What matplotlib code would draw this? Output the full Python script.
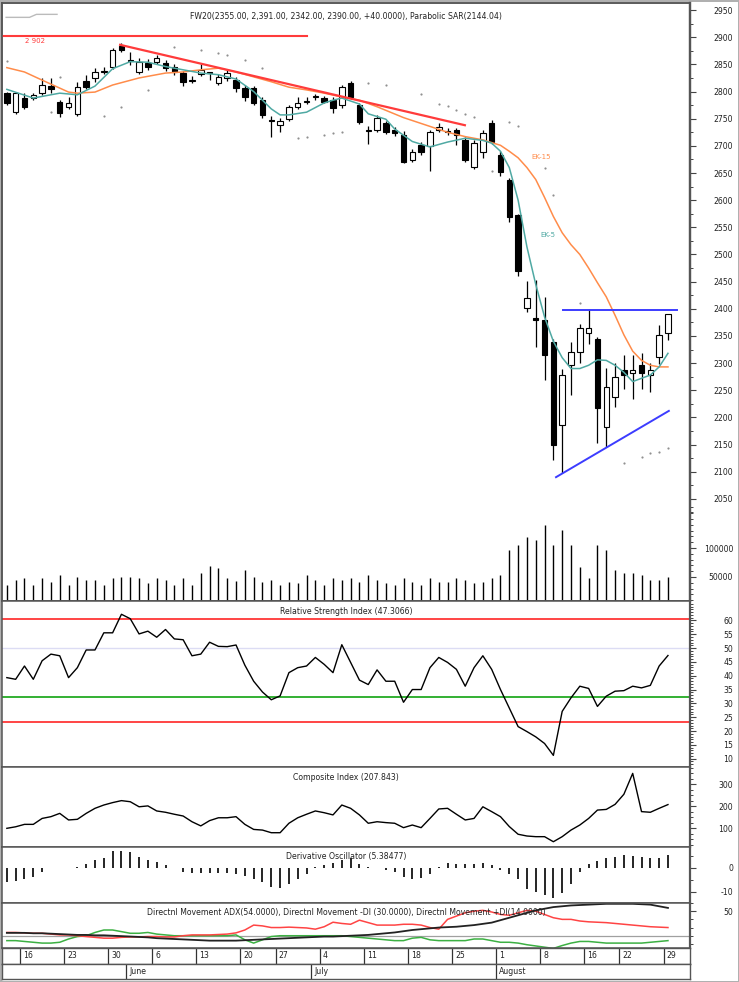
import matplotlib
matplotlib.use("Agg")
import matplotlib.pyplot as plt
import numpy as np
import pandas as pd
from matplotlib.ticker import FixedLocator, NullLocator

# ---------------------------------------------------------------- data
opens = [2797, 2762, 2788, 2788, 2797, 2810, 2781, 2772, 2759, 2819,
         2825, 2836, 2845, 2884, 2858, 2836, 2852, 2855, 2852, 2845,
         2834, 2820, 2832, 2835, 2816, 2825, 2821, 2806, 2806, 2784,
         2746, 2738, 2749, 2772, 2780, 2790, 2788, 2784, 2775, 2816,
         2775, 2728, 2729, 2742, 2729, 2720, 2674, 2702, 2699, 2729,
         2727, 2729, 2711, 2661, 2689, 2742, 2683, 2637, 2572, 2401,
         2383, 2379, 2339, 2186, 2297, 2321, 2355, 2345, 2183, 2238,
         2287, 2281, 2296, 2278, 2311, 2355]
highs = [2800, 2800, 2797, 2798, 2825, 2825, 2784, 2790, 2817, 2830,
         2843, 2845, 2880, 2890, 2872, 2862, 2860, 2868, 2858, 2850,
         2838, 2828, 2850, 2836, 2832, 2842, 2826, 2812, 2810, 2790,
         2755, 2752, 2776, 2790, 2790, 2795, 2792, 2790, 2812, 2820,
         2778, 2737, 2756, 2746, 2735, 2728, 2695, 2708, 2730, 2742,
         2733, 2733, 2716, 2710, 2730, 2748, 2690, 2640, 2575, 2452,
         2453, 2422, 2345, 2290, 2339, 2372, 2399, 2348, 2291, 2300,
         2315, 2315, 2318, 2300, 2370, 2391]
lows = [2776, 2758, 2768, 2784, 2794, 2797, 2753, 2768, 2755, 2805,
        2818, 2832, 2842, 2872, 2849, 2832, 2840, 2850, 2838, 2830,
        2810, 2815, 2828, 2822, 2812, 2820, 2800, 2782, 2775, 2752,
        2716, 2725, 2745, 2768, 2777, 2785, 2778, 2760, 2770, 2786,
        2740, 2703, 2725, 2722, 2718, 2668, 2670, 2684, 2654, 2726,
        2720, 2701, 2670, 2658, 2678, 2704, 2645, 2560, 2460, 2395,
        2330, 2269, 2122, 2098, 2241, 2300, 2336, 2153, 2146, 2220,
        2252, 2234, 2253, 2246, 2298, 2342]
closes = [2779, 2797, 2771, 2793, 2812, 2804, 2760, 2778, 2808, 2808,
          2836, 2837, 2876, 2876, 2856, 2854, 2845, 2862, 2843, 2836,
          2817, 2821, 2839, 2834, 2827, 2834, 2806, 2790, 2779, 2757,
          2745, 2746, 2771, 2779, 2782, 2791, 2781, 2770, 2808, 2790,
          2744, 2730, 2751, 2725, 2723, 2671, 2689, 2689, 2726, 2735,
          2726, 2720, 2674, 2705, 2724, 2707, 2652, 2569, 2470, 2420,
          2380, 2315, 2149, 2278, 2321, 2365, 2364, 2217, 2256, 2274,
          2278, 2288, 2281, 2288, 2352, 2390]
volume = [36000, 45000, 48000, 36000, 48000, 41000, 53000, 36000, 50000, 45000,
          45000, 36000, 48000, 50000, 50000, 48000, 39000, 48000, 45000, 36000,
          48000, 36000, 57000, 69000, 65000, 48000, 43000, 62000, 50000, 41000,
          45000, 36000, 41000, 39000, 53000, 45000, 36000, 48000, 45000, 48000,
          41000, 53000, 45000, 39000, 36000, 48000, 41000, 36000, 48000, 41000,
          41000, 48000, 45000, 39000, 41000, 48000, 53000, 96000, 105000, 119000,
          114000, 140000, 105000, 131000, 105000, 67000, 48000, 105000, 96000, 62000,
          57000, 57000, 53000, 45000, 45000, 50000]

ek5_day = [0, 3, 6, 8, 10, 12, 14, 16, 18, 20, 22, 24, 26, 28, 30, 31, 32, 34, 36, 37,
           38, 40, 41, 43, 44, 46, 48, 50, 52, 54, 55, 56, 57, 58, 59, 60, 61, 62, 63, 64,
           65, 66, 67, 68, 69, 70, 71, 72, 73, 74, 75]
ek5_val = [2804, 2788, 2797, 2794, 2810, 2842, 2855, 2854, 2846, 2840,
           2834, 2831, 2823, 2800, 2768, 2757, 2757, 2762, 2779, 2784,
           2788, 2777, 2759, 2749, 2731, 2708, 2698, 2707, 2714, 2710,
           2705, 2690, 2660, 2600, 2514, 2445, 2385, 2340, 2310, 2290,
           2290, 2296, 2306, 2305, 2296, 2283, 2266, 2272, 2278, 2293, 2318]
ek15_day = [0, 2, 4, 7, 8, 10, 12, 15, 18, 20, 22, 24, 26, 28, 30, 32, 34, 36, 38, 40,
            42, 45, 50, 52, 54, 56, 57, 58, 59, 60, 61, 62, 63, 64, 65, 66, 67, 68, 69, 70,
            71, 72, 73, 74, 75]
ek15_val = [2844, 2836, 2821, 2799, 2797, 2799, 2812, 2825, 2834, 2836,
            2840, 2843, 2836, 2827, 2818, 2808, 2803, 2797, 2790, 2784,
            2772, 2752, 2725, 2717, 2711, 2701, 2690, 2678, 2660, 2638,
            2605, 2570, 2540, 2518, 2500, 2475, 2448, 2422, 2388, 2352,
            2322, 2305, 2296, 2293, 2293]
sar_day = [0, 5, 6, 11, 13, 16, 19, 22, 24, 25, 27, 29, 33, 34, 36, 37, 38, 41, 43, 47,
           49, 50, 51, 52, 53, 55, 57, 58, 61, 62, 65, 70, 72, 73, 74, 75]
sar_val = [2856, 2762, 2827, 2755, 2771, 2803, 2882, 2876, 2871, 2867,
           2858, 2843, 2714, 2716, 2720, 2724, 2725, 2816, 2812, 2795,
           2777, 2773, 2766, 2759, 2753, 2654, 2744, 2737, 2659, 2610,
           2411, 2116, 2127, 2135, 2136, 2144]

rsi = [39.3, 38.7, 43.5, 38.7, 45.4, 47.8, 47.2, 39.3, 42.9, 49.3,
       49.3, 55.5, 55.5, 62.2, 60.6, 55.1, 56.1, 53.9, 56.7, 53.3,
       53.0, 47.2, 47.8, 52.1, 50.6, 50.5, 51.1, 43.8, 38.0, 34.1,
       31.3, 32.7, 41.1, 42.9, 43.5, 46.6, 44.1, 41.1, 51.2, 44.8,
       38.4, 36.8, 42.1, 38.0, 38.0, 30.4, 35.0, 35.0, 42.9, 46.6,
       44.8, 42.3, 36.2, 42.9, 47.2, 42.3, 35.0, 28.3, 21.6, 19.8,
       17.9, 15.5, 11.2, 27.1, 32.0, 36.2, 35.4, 28.9, 32.6, 34.4,
       34.6, 36.2, 35.6, 36.5, 43.5, 47.3]
composite = [100, 107, 118, 118, 145, 153, 168, 138, 141, 168,
             191, 206, 217, 226, 221, 198, 202, 179, 173, 164,
             156, 130, 111, 135, 148, 148, 153, 118, 95, 92,
             80, 80, 123, 148, 164, 179, 171, 161, 206, 191,
             161, 123, 130, 126, 123, 103, 115, 103, 145, 188,
             191, 164, 138, 145, 198, 176, 153, 108, 73, 65,
             62, 62, 39, 62, 92, 115, 145, 183, 186, 209,
             255, 350, 176, 173, 191, 208]
deriv_osc = [-6.1, -5.4, -4.7, -4.0, -1.9, -0.3, -0.2, -0.2, 0.2, 1.7,
             3.1, 4.1, 7.1, 7.1, 6.7, 4.3, 3.1, 2.4, 1.0, -0.3,
             -1.9, -2.3, -2.3, -2.3, -2.3, -2.3, -2.6, -3.3, -4.7, -6.1,
             -8.0, -8.3, -6.9, -4.7, -2.6, 0.2, 1.0, 2.0, 3.4, 3.9,
             1.7, 0.2, -0.2, -1.1, -1.9, -4.0, -4.7, -4.3, -2.6, 0.2,
             2.0, 1.7, 1.7, 1.7, 2.0, 1.0, -1.1, -2.6, -4.7, -9.0,
             -10.1, -11.1, -12.6, -10.4, -6.9, -1.9, 1.4, 2.9, 3.9, 4.6,
             5.3, 4.9, 4.3, 3.9, 3.9, 5.4]
adx = [23.5, 23.5, 23.5, 23, 23, 22.5, 22, 21.5, 21, 21,
       20.5, 20.5, 20, 19.5, 19, 18.5, 18, 17, 16.5, 16,
       15.5, 15, 14.5, 14, 14, 14, 14, 14.5, 15, 15.5,
       16, 16.5, 17, 17.5, 18, 18.5, 19, 19, 19.5, 20,
       20.5, 21, 22, 23, 24, 25.5, 27, 28, 29, 30,
       30.5, 31, 32, 33, 34.5, 36, 39, 42, 45, 48,
       51, 53, 55, 56, 57, 57.5, 58, 58.5, 59, 59,
       59, 59, 58.5, 58, 56, 54]
minus_di = [24, 24, 23.5, 23, 23, 22, 21, 21, 20, 19,
            18, 17, 17, 18, 18.5, 18.5, 19, 19, 18.5, 18.5,
            20, 21, 21, 21, 21.5, 22, 23.5, 27, 33, 32,
            30, 30, 30.5, 30, 29.5, 28, 31, 36.5, 35, 34,
            39, 36, 33, 33, 33, 34, 34, 33, 30, 28,
            40, 44, 48, 50, 51, 49, 46, 45, 48, 51,
            50, 46, 42, 40, 40, 38, 37, 36.5, 36, 35,
            34, 33, 32, 31, 30.5, 30]
plus_di = [14, 14, 13, 12, 11, 11, 12, 16, 19, 20,
           24, 27, 27, 25, 23, 23, 24, 22, 21, 20,
           20, 20, 20, 20, 20, 20, 21, 15, 11, 15,
           19, 20, 20, 20, 20, 20, 20, 20, 20, 19,
           18, 17, 16, 15, 14, 14, 17, 18, 15, 14,
           14, 14, 14, 16, 16, 14, 12, 12, 11, 9,
           7.5, 6, 4.5, 8, 11, 13, 13, 12, 11, 11,
           11, 11, 11, 12, 13, 14]

resistance_2902 = 2902
red_trend_days, red_trend_vals = [12.85, 51.96], [2886, 2738]
blue_top_days, blue_top_val = [63.1, 76.0], 2398
blue_low_days, blue_low_vals = [62.3, 75.1], [2090, 2212]

dates = pd.bdate_range("2011-05-12", "2011-08-29")
dates = dates[~dates.isin(pd.to_datetime(["2011-06-23", "2011-08-15"]))]
x = np.arange(len(dates))
opens, highs, lows, closes = map(np.array, (opens, highs, lows, closes))

# ---------------------------------------------------------------- layout
W, H = 739, 982
LEFT, RIGHT = 2, 690
XLIM = (-0.55, 77.5)
FS = 5.6
TXT = "#222222"

fig = plt.figure(figsize=(W / 100, H / 100), dpi=100)
fig.patch.set_edgecolor("#b0b0b0")
fig.patch.set_linewidth(2)


def panel(top, bottom):
    return fig.add_axes([LEFT / W, 1 - bottom / H, (RIGHT - LEFT) / W, (bottom - top) / H])


def right_axis(ax, major, minor, labels=None):
    ax.set_xlim(*XLIM)
    ax.xaxis.set_major_locator(NullLocator())
    ax.yaxis.tick_right()
    ax.yaxis.set_major_locator(FixedLocator(major))
    ax.yaxis.set_minor_locator(FixedLocator(minor))
    ax.set_yticklabels(labels if labels else [f"{v:g}" for v in major])
    ax.tick_params(axis="y", which="major", length=4, width=0.8, pad=27,
                   left=False, labelleft=False, right=True, labelright=True,
                   labelsize=FS, labelcolor=TXT, color="#444444")
    ax.tick_params(axis="y", which="minor", length=2, width=0.7, color="#444444",
                   left=False, right=True)
    for t in ax.yaxis.get_major_ticks():
        t.label2.set_horizontalalignment("right")
    for s in ax.spines.values():
        s.set_color("#555555")
        s.set_linewidth(1.1)
    ax.spines["right"].set_linewidth(1.6)


def panel_title(ax, text, px_from_top, height):
    ax.text(0.5, 1 - px_from_top / height, text, transform=ax.transAxes,
            ha="center", va="center", fontsize=FS, color=TXT)


# ---------------------------------------------------------------- price + volume
ax = panel(3, 601)
axv = ax.twinx()
ax.set_ylim(1862, 2963)
axv.set_ylim(8600, 1040000)
right_axis(ax, list(range(2050, 2951, 50)), list(range(2025, 2976, 50)))
right_axis(axv, [50000, 100000], list(range(10000, 170001, 10000)), ["50000", "100000"])

ax.vlines(x, lows, highs, color="black", lw=0.9, zorder=3)
body = np.maximum(np.abs(closes - opens), 2)
ax.bar(x, body, bottom=np.minimum(opens, closes), width=0.62,
       color=np.where(closes >= opens, "white", "black"),
       edgecolor="black", linewidth=0.8, zorder=4)

ax.plot(ek15_day, ek15_val, color="#ff8c4a", lw=1.1, zorder=5)
ax.plot(ek5_day, ek5_val, color="#4fa9a3", lw=1.1, zorder=5)
ax.scatter(sar_day, sar_val, s=2.5, color="#909090", zorder=2, linewidths=0)

ax.plot([XLIM[0], 34.05], [resistance_2902] * 2, color="#ff3b3b", lw=1.5, zorder=6)
ax.text(3.2, 2893, "2 902", color="#ff3b3b", fontsize=5, ha="center", va="center")
ax.plot(red_trend_days, red_trend_vals, color="#ff3b3b", lw=1.6, zorder=6)
ax.plot(blue_top_days, [blue_top_val] * 2, color="#3c3cff", lw=1.4, zorder=6)
ax.plot(blue_low_days, blue_low_vals, color="#3c3cff", lw=1.4, zorder=6)

ax.text(60.6, 2679, "EK-15", color="#ff8c4a", fontsize=5, ha="center", va="center")
ax.text(61.4, 2536, "EK-5", color="#4fa9a3", fontsize=5, ha="center", va="center")

ax.plot([0.006, 0.04, 0.05, 0.08], [0.976, 0.976, 0.981, 0.981],
        transform=ax.transAxes, color="#bbbbbb", lw=1)
panel_title(ax, "FW20(2355.00, 2,391.00, 2342.00, 2390.00, +40.0000), Parabolic SAR(2144.04)", 14, 598)

axv.vlines(x, 0, volume, color="black", lw=1.0)

# ---------------------------------------------------------------- RSI
ar = panel(601, 767)
ar.set_ylim(7, 67)
right_axis(ar, list(range(10, 61, 5)), list(range(8, 67, 1)))
ar.axhline(50, color="#dcdcf4", lw=1.0)
ar.axhline(60.5, color="#ff4444", lw=1.4)
ar.axhline(23.4, color="#ff4444", lw=1.4)
ar.axhline(32.3, color="#33b033", lw=1.4)
ar.plot(x, rsi, color="black", lw=1.0)
panel_title(ar, "Relative Strength Index (47.3066)", 10, 166)

# ---------------------------------------------------------------- Composite
ac = panel(767, 847)
ac.set_ylim(15, 379)
right_axis(ac, [100, 200, 300], list(range(25, 376, 25)))
ac.plot(x, composite, color="black", lw=1.0)
panel_title(ac, "Composite Index (207.843)", 10, 80)

# ---------------------------------------------------------------- Derivative oscillator
ad = panel(847, 903)
ad.set_ylim(-14.6, 8.6)
right_axis(ad, [-10, 0], [-10, -5, 0, 5])
ad.vlines(x, 0, deriv_osc, color="black", lw=1.2)
panel_title(ad, "Derivative Oscillator (5.38477)", 10, 56)

# ---------------------------------------------------------------- DMI
am = panel(903, 948)
am.set_ylim(5, 60)
right_axis(am, [50], list(range(10, 61, 10)))
am.axhline(20, color="#a0a0a0", lw=0.9)
am.plot(x, plus_di, color="#3cb043", lw=1.1)
am.plot(x, minus_di, color="#ff4444", lw=1.1)
am.plot(x, adx, color="#222222", lw=1.3)
panel_title(am, "Directnl Movement ADX(54.0000), Directnl Movement -DI (30.0000), "
                "Directnl Movement +DI(14.0000)", 9, 45)

# ---------------------------------------------------------------- date rows
week_start = [i for i in range(1, len(dates)) if dates[i].weekday() < dates[i - 1].weekday()]
month_start = [i for i in range(1, len(dates)) if dates[i].month != dates[i - 1].month]

for top, bottom, idx, fmt in [(948, 964, week_start, lambda d: f"{d.day}"),
                              (964, 979, month_start, lambda d: d.strftime("%B"))]:
    a = panel(top, bottom)
    a.set_xlim(*XLIM)
    a.set_ylim(0, 1)
    a.set_xticks([])
    a.set_yticks([])
    for s in a.spines.values():
        s.set_color("#555555")
        s.set_linewidth(1.0)
    for i in idx:
        a.axvline(i - 0.5, color="#333333", lw=0.9)
        a.text(i - 0.5 + 0.35, 0.5, fmt(dates[i]), fontsize=FS, color=TXT, va="center", ha="left")

fig.savefig("out.png", dpi=100, edgecolor=fig.get_edgecolor())
